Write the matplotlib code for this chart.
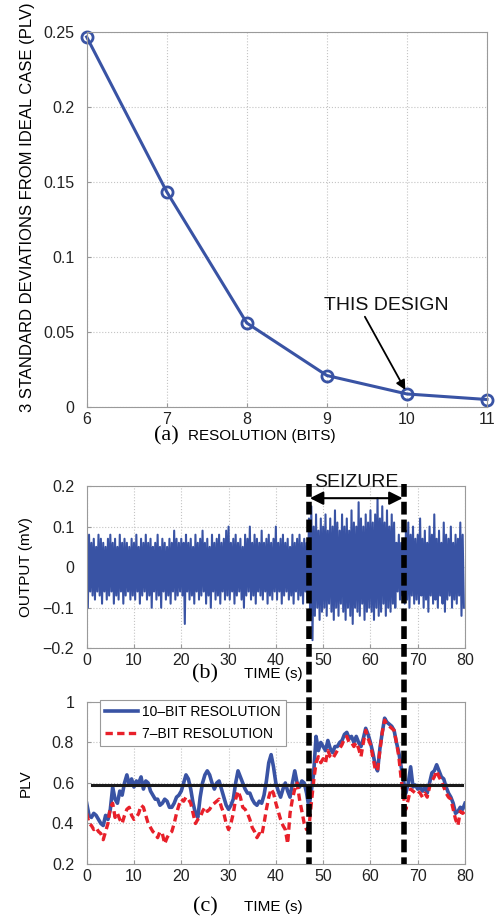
import matplotlib
matplotlib.use('Agg')
import matplotlib.pyplot as plt
from matplotlib.lines import Line2D
from matplotlib.ticker import FuncFormatter
import numpy as np

plt.rcParams['font.family'] = ['Liberation Sans', 'DejaVu Sans']

# (a) resolution sweep
bits = [6, 7, 8, 9, 10, 11]
dev_3sigma = [0.2465, 0.1433, 0.0558, 0.0208, 0.0085, 0.0048]

# (b) output signal, spike envelope read every 0.5 s (upper at t, lower at t+0.25)
out_upper = [
    0.05, 0.08, 0.06, 0.07, 0.05, 0.08, 0.07, 0.06, 0.05, 0.07, 0.08, 0.06, 0.07, 0.05, 0.08, 0.06, 0.07, 0.06, 0.05, 0.07,
    0.06, 0.08, 0.05, 0.07, 0.06, 0.08, 0.06, 0.07, 0.05, 0.06, 0.08, 0.05, 0.07, 0.06, 0.05, 0.07, 0.06, 0.09, 0.07, 0.06,
    0.07, 0.06, 0.08, 0.06, 0.07, 0.05, 0.08, 0.06, 0.07, 0.09, 0.06, 0.07, 0.05, 0.08, 0.06, 0.07, 0.08, 0.06, 0.07, 0.09,
    0.10, 0.06, 0.07, 0.08, 0.06, 0.07, 0.05, 0.08, 0.07, 0.10, 0.06, 0.08, 0.07, 0.06, 0.09, 0.06, 0.07, 0.08, 0.06, 0.07,
    0.10, 0.06, 0.07, 0.08, 0.06, 0.07, 0.05, 0.08, 0.06, 0.07, 0.08, 0.06, 0.07, 0.06, 0.12, 0.15, 0.10, 0.13, 0.09, 0.12,
    0.10, 0.13, 0.09, 0.12, 0.10, 0.14, 0.11, 0.09, 0.13, 0.10, 0.12, 0.09, 0.14, 0.11, 0.10, 0.16, 0.12, 0.10, 0.13, 0.11,
    0.14, 0.11, 0.13, 0.17, 0.12, 0.15, 0.11, 0.14, 0.10, 0.13, 0.11, 0.06, 0.08, 0.06, 0.07, 0.09, 0.11, 0.08, 0.10, 0.07,
    0.08, 0.12, 0.07, 0.09, 0.06, 0.10, 0.08, 0.13, 0.07, 0.09, 0.06, 0.11, 0.08, 0.07, 0.10, 0.06, 0.08, 0.07, 0.11, 0.08,
]
out_lower = [
    -0.10, -0.06, -0.07, -0.08, -0.06, -0.07, -0.09, -0.06, -0.08, -0.07, -0.06, -0.09, -0.07, -0.08, -0.06, -0.09, -0.07, -0.06, -0.08, -0.07,
    -0.08, -0.06, -0.09, -0.07, -0.06, -0.08, -0.07, -0.10, -0.06, -0.08, -0.07, -0.10, -0.06, -0.08, -0.07, -0.09, -0.06, -0.08, -0.07, -0.06,
    -0.07, -0.14, -0.06, -0.08, -0.07, -0.09, -0.06, -0.08, -0.07, -0.06, -0.09, -0.07, -0.10, -0.06, -0.08, -0.07, -0.09, -0.06, -0.08, -0.07,
    -0.08, -0.06, -0.09, -0.07, -0.06, -0.08, -0.10, -0.07, -0.06, -0.08, -0.07, -0.09, -0.06, -0.07, -0.08, -0.06, -0.09, -0.07, -0.08, -0.06,
    -0.08, -0.06, -0.09, -0.07, -0.06, -0.08, -0.07, -0.09, -0.06, -0.08, -0.07, -0.09, -0.06, -0.08, -0.12, -0.18, -0.12, -0.10, -0.13, -0.11,
    -0.10, -0.12, -0.09, -0.11, -0.13, -0.10, -0.12, -0.09, -0.11, -0.13, -0.10, -0.12, -0.14, -0.10, -0.11, -0.12, -0.09, -0.13, -0.11, -0.10,
    -0.11, -0.13, -0.10, -0.12, -0.11, -0.09, -0.12, -0.10, -0.11, -0.09, -0.10, -0.06, -0.08, -0.07, -0.09, -0.08, -0.10, -0.07, -0.09, -0.08,
    -0.09, -0.07, -0.10, -0.08, -0.11, -0.07, -0.09, -0.08, -0.10, -0.07, -0.09, -0.11, -0.08, -0.07, -0.10, -0.08, -0.09, -0.07, -0.12, -0.10,
]

# (c) PLV traces, read every 0.5 s from 0 to 80 s
plv_10bit = [
    0.50, 0.44, 0.43, 0.45, 0.44, 0.42, 0.40, 0.39, 0.44, 0.42, 0.47, 0.58, 0.52, 0.50, 0.56, 0.54, 0.60, 0.64, 0.59, 0.62,
    0.58, 0.61, 0.60, 0.63, 0.57, 0.61, 0.60, 0.56, 0.54, 0.52, 0.52, 0.49, 0.50, 0.52, 0.51, 0.48, 0.48, 0.50, 0.53, 0.54,
    0.56, 0.60, 0.64, 0.62, 0.57, 0.50, 0.45, 0.43, 0.53, 0.60, 0.64, 0.66, 0.64, 0.60, 0.57, 0.60, 0.61, 0.57, 0.53, 0.49,
    0.47, 0.49, 0.52, 0.60, 0.66, 0.63, 0.60, 0.57, 0.55, 0.55, 0.52, 0.50, 0.49, 0.51, 0.50, 0.54, 0.61, 0.70, 0.74, 0.68,
    0.60, 0.56, 0.53, 0.57, 0.60, 0.56, 0.53, 0.60, 0.66, 0.60, 0.58, 0.61, 0.60, 0.55, 0.48, 0.56, 0.65, 0.83, 0.76, 0.80,
    0.78, 0.76, 0.81, 0.77, 0.75, 0.78, 0.78, 0.80, 0.81, 0.84, 0.85, 0.82, 0.83, 0.80, 0.83, 0.80, 0.78, 0.82, 0.87, 0.84,
    0.80, 0.75, 0.69, 0.66, 0.77, 0.85, 0.92, 0.90, 0.89, 0.88, 0.86, 0.80, 0.75, 0.68, 0.61, 0.55, 0.60, 0.68, 0.58, 0.59,
    0.57, 0.58, 0.56, 0.58, 0.55, 0.60, 0.65, 0.66, 0.69, 0.66, 0.63, 0.62, 0.58, 0.55, 0.53, 0.50, 0.45, 0.46, 0.48, 0.47,
    0.50,
]
plv_7bit = [
    0.45, 0.40, 0.39, 0.37, 0.38, 0.36, 0.35, 0.32, 0.36, 0.40, 0.48, 0.50, 0.43, 0.45, 0.42, 0.40, 0.44, 0.47, 0.48, 0.44,
    0.42, 0.43, 0.45, 0.49, 0.48, 0.44, 0.40, 0.38, 0.36, 0.35, 0.33, 0.36, 0.35, 0.30, 0.33, 0.35, 0.36, 0.40, 0.45, 0.49,
    0.52, 0.51, 0.53, 0.52, 0.50, 0.45, 0.40, 0.42, 0.43, 0.46, 0.48, 0.46, 0.47, 0.49, 0.50, 0.51, 0.52, 0.48, 0.45, 0.40,
    0.37, 0.40, 0.45, 0.52, 0.56, 0.53, 0.48, 0.47, 0.45, 0.42, 0.38, 0.36, 0.33, 0.35, 0.34, 0.40, 0.47, 0.53, 0.57, 0.55,
    0.50, 0.46, 0.42, 0.39, 0.37, 0.30, 0.45, 0.52, 0.57, 0.60, 0.52, 0.46, 0.40, 0.37, 0.38, 0.50, 0.61, 0.70, 0.73, 0.70,
    0.72, 0.70, 0.76, 0.73, 0.72, 0.74, 0.76, 0.77, 0.79, 0.82, 0.83, 0.80, 0.80, 0.78, 0.80, 0.77, 0.73, 0.80, 0.86, 0.82,
    0.79, 0.73, 0.67, 0.66, 0.76, 0.85, 0.91, 0.89, 0.88, 0.87, 0.86, 0.80, 0.73, 0.62, 0.53, 0.47, 0.52, 0.57, 0.56, 0.55,
    0.56, 0.55, 0.53, 0.55, 0.53, 0.58, 0.61, 0.63, 0.66, 0.63, 0.61, 0.58, 0.55, 0.53, 0.52, 0.47, 0.42, 0.39, 0.46, 0.45,
    0.46,
]
threshold = 0.59
threshold_span = (1.1, 79.3)
seizure = (47, 67)

BLUE = '#3953a4'
RED = '#e8202a'


def fmt(v, pos):
    return '{:g}'.format(v).replace('-', '\u2212')


def style(ax):
    ax.grid(True, linestyle=':', color='#c4c4c4', linewidth=0.8)
    for s in ax.spines.values():
        s.set_color('#9a9a9a')
        s.set_linewidth(0.8)
    ax.tick_params(direction='in', length=3, color='#9a9a9a', labelsize=11.5, labelcolor='#222222')
    ax.tick_params(axis='y', pad=9)
    ax.yaxis.set_major_formatter(FuncFormatter(fmt))


fig = plt.figure(figsize=(5.01, 9.21), dpi=100)

# ---- (a)
ax_a = fig.add_axes([0.173, 0.5584, 0.799, 0.4072])
ax_a.plot(bits, dev_3sigma, color=BLUE, lw=2.2, marker='o', ms=8, mfc='none', mec=BLUE, mew=2, clip_on=False)
ax_a.set_xlim(6, 11)
ax_a.set_ylim(0, 0.25)
ax_a.set_xticks(bits)
ax_a.set_yticks([0, 0.05, 0.1, 0.15, 0.2, 0.25])
style(ax_a)
ax_a.set_ylabel('3 STANDARD DEVIATIONS FROM IDEAL CASE (PLV)', fontsize=12, labelpad=6, y=0.532)
ax_a.annotate('THIS DESIGN', xy=(9.98, 0.0112), xytext=(9.74, 0.0645), ha='center', va='baseline',
              fontsize=14, color='#111111',
              arrowprops=dict(arrowstyle='-|>', color='k', lw=1.3, mutation_scale=14,
                              relpos=(0.31, 0.1), shrinkA=0, shrinkB=0))
fig.text(0.357, 1 - 436 / 921, '(a)', family='Liberation Serif', fontsize=16, ha='right', va='center')
fig.text(0.375, 1 - 436 / 921, 'RESOLUTION (BITS)', fontsize=11, ha='left', va='center')

# ---- (b)
ax_b = fig.add_axes([0.173, 0.2961, 0.7552, 0.1762])
t_up = np.arange(len(out_upper)) * 0.5
xs = np.column_stack([t_up, t_up + 0.25]).ravel()
ys = np.column_stack([out_upper, out_lower]).ravel()
ax_b.plot(xs, ys, color=BLUE, lw=1.5)
ax_b.set_xlim(0, 80)
ax_b.set_ylim(-0.2, 0.2)
ax_b.set_xticks(range(0, 81, 10))
ax_b.set_yticks([-0.2, -0.1, 0, 0.1, 0.2])
style(ax_b)
ax_b.set_ylabel('OUTPUT (mV)', fontsize=11, labelpad=7)
ax_b.annotate('', xy=(seizure[0] + 0.2, 0.17), xytext=(seizure[1] - 0.2, 0.17),
              arrowprops=dict(arrowstyle='<|-|>', color='k', lw=1.5, mutation_scale=20,
                              shrinkA=0, shrinkB=0), annotation_clip=False)
ax_b.text(sum(seizure) / 2, 0.198, 'SEIZURE', ha='center', va='baseline', fontsize=14, color='#111111')
fig.text(0.41, 1 - 674 / 921, '(b)', family='Liberation Serif', fontsize=16, ha='center', va='center')
fig.text(0.545, 1 - 674 / 921, 'TIME (s)', fontsize=11, ha='center', va='center')

# ---- (c)
t_plv = np.arange(len(plv_10bit)) * 0.5
ax_c = fig.add_axes([0.173, 0.0619, 0.7552, 0.1759])
ax_c.plot(t_plv, plv_10bit, color=BLUE, lw=2.6, label='10\u2013BIT RESOLUTION')
ax_c.plot(t_plv, plv_7bit, color=RED, lw=2.4, ls=(0, (2.2, 1.3)), label='7\u2013BIT RESOLUTION')
ax_c.plot(threshold_span, [threshold, threshold], color='#1a1a1a', lw=2.2)
ax_c.set_xlim(0, 80)
ax_c.set_ylim(0.2, 1)
ax_c.set_xticks(range(0, 81, 10))
ax_c.set_yticks([0.2, 0.4, 0.6, 0.8, 1])
style(ax_c)
ax_c.set_ylabel('PLV', fontsize=11, labelpad=14)
leg = ax_c.legend(loc='upper left', bbox_to_anchor=(0.035, 1.012), fontsize=10, frameon=True, fancybox=False,
                  borderaxespad=0, handlelength=2.4, handletextpad=0.3, borderpad=0.35, labelspacing=0.6)
leg.get_frame().set_edgecolor('#9a9a9a')
leg.get_frame().set_linewidth(0.8)
leg.get_frame().set_alpha(1)
fig.text(0.41, 1 - 907 / 921, '(c)', family='Liberation Serif', fontsize=16, ha='center', va='center')
fig.text(0.545, 1 - 907 / 921, 'TIME (s)', fontsize=11, ha='center', va='center')

# ---- seizure markers spanning (b) and (c)
inv = fig.transFigure.inverted()
for x in seizure:
    top = inv.transform(ax_b.transData.transform((x, 0.2)))
    bot = inv.transform(ax_c.transData.transform((x, 0.2)))
    fig.add_artist(Line2D([top[0], bot[0]], [top[1] + 0.002, bot[1]], transform=fig.transFigure,
                          color='k', lw=4, ls=(0, (2.3, 0.9)), zorder=10))

fig.savefig('out.png', dpi=100)
